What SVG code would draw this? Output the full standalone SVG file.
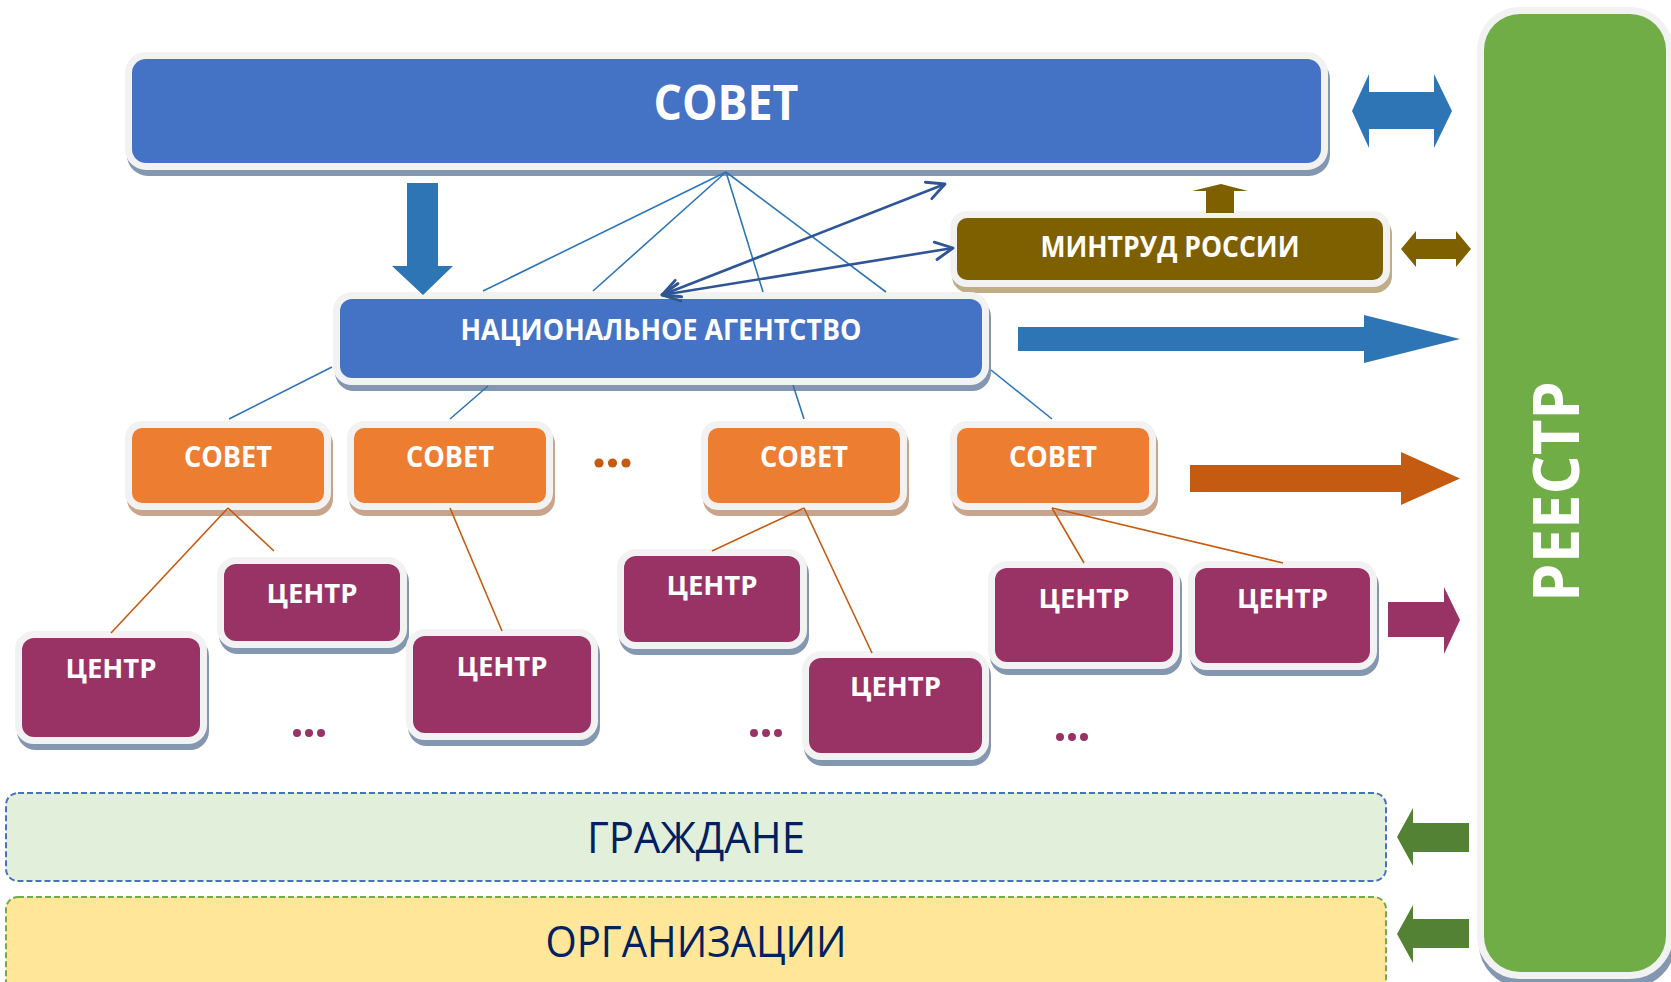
<svg xmlns="http://www.w3.org/2000/svg" width="1671" height="982" viewBox="0 0 1671 982">
<defs>
<style>
.b{stroke:#F2F2F2;stroke-width:14;paint-order:stroke}
.sb{fill:#8497B0;stroke:#8497B0;stroke-width:14}
.so{fill:#C8A48C;stroke:#C8A48C;stroke-width:14}
.sm{fill:#BFAE85;stroke:#BFAE85;stroke-width:14}
.blue{fill:#4472C4}
.org{fill:#ED7D31}
.pur{fill:#993366}
.brn{fill:#7F6000}
.grn{fill:#70AD47}
.t{font-family:"Open Sans","Noto Sans","DejaVu Sans",sans-serif;font-weight:700;fill:#FFFFFF;text-anchor:middle}
.tb{font-family:"Open Sans","Noto Sans","DejaVu Sans",sans-serif;font-weight:400;fill:#002060;text-anchor:middle;font-size:43px}
.ln{stroke:#2E75B6;stroke-width:1.6;fill:none}
.lo{stroke:#C55A11;stroke-width:1.6;fill:none}
.da{stroke:#2F5597;stroke-width:2.6;fill:none;marker-start:url(#chev);marker-end:url(#chev)}
.dots-o{fill:#C55A11}
.dots-p{fill:#993366}
</style>
<marker id="chev" markerUnits="userSpaceOnUse" markerWidth="22" markerHeight="22" viewBox="0 0 20 20" refX="18" refY="10" orient="auto-start-reverse">
<path d="M2,2 L18,10 L2,18" fill="none" stroke="#2F5597" stroke-width="2.6" stroke-linecap="round" stroke-linejoin="round"/>
</marker>
</defs>
<rect width="1671" height="982" fill="#FFFFFF"/>

<g id="reestr">
<rect class="sb" x="1486" y="22" width="182" height="958" rx="36"/>
<rect class="b grn" x="1484" y="14" width="182" height="958" rx="36"/>
<text class="t" font-size="65" textLength="221" lengthAdjust="spacingAndGlyphs" transform="translate(1579,491.5) rotate(-90)" x="0" y="0">РЕЕСТР</text>
</g>

<g id="grazhdane">
<rect x="6" y="793" width="1380" height="88" rx="12" fill="#E2EFDA" stroke="#4472C4" stroke-width="2" stroke-dasharray="6 3"/>
<text class="tb" x="696" y="853" textLength="218" lengthAdjust="spacingAndGlyphs">ГРАЖДАНЕ</text>
</g>
<g id="organizatsii">
<rect x="6" y="897" width="1380" height="100" rx="12" fill="#FFE699" stroke="#70AD47" stroke-width="2" stroke-dasharray="6 3"/>
<text class="tb" x="696" y="957" textLength="301" lengthAdjust="spacingAndGlyphs">ОРГАНИЗАЦИИ</text>
</g>

<g id="sovet-top">
<rect class="sb" x="134" y="65" width="1189" height="104" rx="14"/>
<rect class="b blue" x="132" y="59" width="1189" height="104" rx="14"/>
<text class="t" font-size="48" x="726" y="120" textLength="145" lengthAdjust="spacingAndGlyphs">СОВЕТ</text>
</g>

<g id="mintrud">
<rect class="sm" x="959" y="224" width="426" height="62" rx="10"/>
<rect class="b brn" x="957" y="218" width="426" height="62" rx="10"/>
<text class="t" font-size="28" x="1170" y="257" textLength="259" lengthAdjust="spacingAndGlyphs">МИНТРУД РОССИИ</text>
</g>

<g id="agentstvo">
<rect class="sb" x="342" y="305" width="642" height="79" rx="12"/>
<rect class="b blue" x="340" y="299" width="642" height="79" rx="12"/>
<text class="t" font-size="28.5" x="661" y="340" textLength="401" lengthAdjust="spacingAndGlyphs">НАЦИОНАЛЬНОЕ АГЕНТСТВО</text>
</g>

<g id="sovet-1">
<rect class="so" x="134" y="434" width="192" height="75" rx="10"/>
<rect class="b org" x="132" y="428" width="192" height="75" rx="10"/>
<text class="t" font-size="28" x="228" y="467" textLength="88" lengthAdjust="spacingAndGlyphs">СОВЕТ</text>
</g>
<g id="sovet-2">
<rect class="so" x="356" y="434" width="192" height="75" rx="10"/>
<rect class="b org" x="354" y="428" width="192" height="75" rx="10"/>
<text class="t" font-size="28" x="450" y="467" textLength="88" lengthAdjust="spacingAndGlyphs">СОВЕТ</text>
</g>
<g id="sovet-3">
<rect class="so" x="710" y="434" width="192" height="75" rx="10"/>
<rect class="b org" x="708" y="428" width="192" height="75" rx="10"/>
<text class="t" font-size="28" x="804" y="467" textLength="88" lengthAdjust="spacingAndGlyphs">СОВЕТ</text>
</g>
<g id="sovet-4">
<rect class="so" x="959" y="434" width="192" height="75" rx="10"/>
<rect class="b org" x="957" y="428" width="192" height="75" rx="10"/>
<text class="t" font-size="28" x="1053" y="467" textLength="88" lengthAdjust="spacingAndGlyphs">СОВЕТ</text>
</g>

<g id="centr-1">
<rect class="sb" x="24" y="644" width="178" height="99" rx="12"/>
<rect class="b pur" x="22" y="638" width="178" height="99" rx="12"/>
<text class="t" font-size="27.5" x="111" y="678">ЦЕНТР</text>
</g>
<g id="centr-2">
<rect class="sb" x="226" y="570" width="176" height="77" rx="12"/>
<rect class="b pur" x="224" y="564" width="176" height="77" rx="12"/>
<text class="t" font-size="27.5" x="312" y="603">ЦЕНТР</text>
</g>
<g id="centr-3">
<rect class="sb" x="415" y="642" width="178" height="97" rx="12"/>
<rect class="b pur" x="413" y="636" width="178" height="97" rx="12"/>
<text class="t" font-size="27.5" x="502" y="676">ЦЕНТР</text>
</g>
<g id="centr-4">
<rect class="sb" x="626" y="562" width="176" height="86" rx="12"/>
<rect class="b pur" x="624" y="556" width="176" height="86" rx="12"/>
<text class="t" font-size="27.5" x="712" y="595">ЦЕНТР</text>
</g>
<g id="centr-5">
<rect class="sb" x="811" y="664" width="173" height="95" rx="12"/>
<rect class="b pur" x="809" y="658" width="173" height="95" rx="12"/>
<text class="t" font-size="27.5" x="895.5" y="696">ЦЕНТР</text>
</g>
<g id="centr-6">
<rect class="sb" x="997" y="574" width="178" height="94" rx="12"/>
<rect class="b pur" x="995" y="568" width="178" height="94" rx="12"/>
<text class="t" font-size="27.5" x="1084" y="608">ЦЕНТР</text>
</g>
<g id="centr-7">
<rect class="sb" x="1197" y="574" width="175" height="95" rx="12"/>
<rect class="b pur" x="1195" y="568" width="175" height="95" rx="12"/>
<text class="t" font-size="27.5" x="1282.5" y="608">ЦЕНТР</text>
</g>

<g id="ellipses">
<circle class="dots-o" cx="599" cy="463" r="4.6"/><circle class="dots-o" cx="612.5" cy="463" r="4.6"/><circle class="dots-o" cx="626" cy="463" r="4.6"/>
<circle class="dots-p" cx="297" cy="733" r="4"/><circle class="dots-p" cx="309" cy="733" r="4"/><circle class="dots-p" cx="321" cy="733" r="4"/>
<circle class="dots-p" cx="754" cy="733" r="4"/><circle class="dots-p" cx="766" cy="733" r="4"/><circle class="dots-p" cx="778" cy="733" r="4"/>
<circle class="dots-p" cx="1060" cy="737" r="4"/><circle class="dots-p" cx="1072" cy="737" r="4"/><circle class="dots-p" cx="1084" cy="737" r="4"/>
</g>

<g id="connectors">
<line class="ln" x1="726" y1="172" x2="483" y2="291"/>
<line class="ln" x1="726" y1="172" x2="593" y2="291"/>
<line class="ln" x1="726" y1="172" x2="763" y2="292"/>
<line class="ln" x1="726" y1="172" x2="886" y2="292"/>
<line class="da" x1="945" y1="184" x2="662" y2="295"/>
<line class="da" x1="953" y1="248" x2="662" y2="295"/>
<line class="ln" x1="332" y1="367" x2="229" y2="419"/>
<line class="ln" x1="488" y1="386" x2="450" y2="419"/>
<line class="ln" x1="793" y1="385" x2="804" y2="419"/>
<line class="ln" x1="991" y1="370" x2="1052" y2="419"/>
<line class="lo" x1="228" y1="508" x2="111" y2="633"/>
<line class="lo" x1="228" y1="508" x2="274" y2="551"/>
<line class="lo" x1="450" y1="508" x2="502" y2="631"/>
<line class="lo" x1="804" y1="508" x2="712" y2="551"/>
<line class="lo" x1="804" y1="508" x2="872" y2="653"/>
<line class="lo" x1="1052" y1="508" x2="1084" y2="563"/>
<line class="lo" x1="1052" y1="508" x2="1283" y2="563"/>
<polygon fill="#2E75B6" points="407,183 438,183 438,266 453,266 423,295 392,266 407,266"/>
<polygon fill="#2E75B6" points="1352,111 1369,74 1369,92 1434,92 1434,74 1452,111 1434,148 1434,129 1369,129 1369,148"/>
<polygon fill="#7F6000" points="1401,249 1416,231 1416,239 1456,239 1456,231 1471,249 1456,267 1456,259 1416,259 1416,267"/>
<polygon fill="#7F6000" points="1221,184 1248,191 1234,191 1234,213 1206,213 1206,191 1192,191"/>
<polygon fill="#2E75B6" points="1018,327 1364,327 1364,315 1460,339 1364,363 1364,351 1018,351"/>
<polygon fill="#C55A11" points="1190,465 1401,465 1401,452 1460,478.5 1401,505 1401,492 1190,492"/>
<polygon fill="#993366" points="1388,602 1444,602 1444,587 1460,620 1444,654 1444,637 1388,637"/>
<polygon fill="#548235" points="1469,823 1413,823 1413,808 1397,837 1413,866 1413,852 1469,852"/>
<polygon fill="#548235" points="1469,919 1413,919 1413,905 1397,934 1413,963 1413,948 1469,948"/>
</g>
</svg>
